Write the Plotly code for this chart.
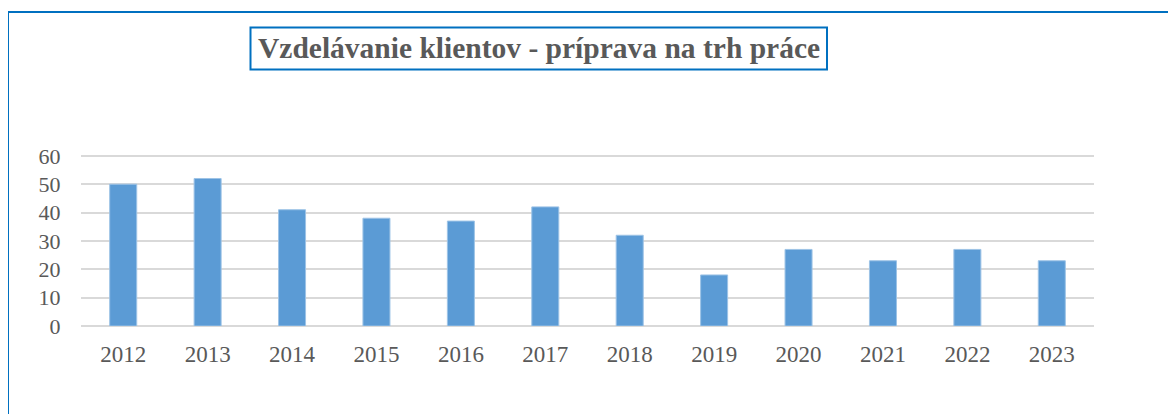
import plotly.graph_objects as go

years = ["2012", "2013", "2014", "2015", "2016", "2017", "2018", "2019", "2020", "2021", "2022", "2023"]
values = [50, 52, 41, 38, 37, 42, 32, 18, 27, 23, 27, 23]
y_ticks = [0, 10, 20, 30, 40, 50, 60]
title_text = "Vzdelávanie klientov - príprava na trh práce"

OFF = 8  # page body margin in the browser
Y_TOP = 61
W, H = 1176 - OFF, 414 - OFF
B = 88
PH_target = (326 - 156) * Y_TOP / 60
L, R = 81 - OFF, 82
T = int(round(326 - PH_target)) - OFF
PW, PH = W - L - R, H - T - B

def px(x):
    return (x - OFF - L) / PW

def py(y):
    return (H - B - (y - OFF)) / PH

FONT = "Liberation Serif"
GRAY = "#595959"
BLUE = "#0070C0"

fig = go.Figure(go.Bar(
    x=years, y=values,
    marker=dict(color="#5B9BD5", line=dict(color="#9DC3E6", width=1)),
))

fig.update_layout(
    width=W, height=H,
    margin=dict(l=L, r=R, t=T, b=B),
    paper_bgcolor="white", plot_bgcolor="white",
    bargap=0.68,
    showlegend=False,
    font=dict(family=FONT, color=GRAY),
    xaxis=dict(type="category", showgrid=False, showline=False, zeroline=False,
               ticks="outside", ticklen=7, tickcolor="rgba(0,0,0,0)",
               tickfont=dict(family=FONT, size=23, color=GRAY)),
    yaxis=dict(range=[0, Y_TOP], tickvals=y_ticks, showgrid=True, gridcolor="#D9D9D9",
               gridwidth=1.5, zeroline=True, zerolinecolor="#D9D9D9", zerolinewidth=1.5,
               showline=False, ticks="outside", ticklen=15, tickcolor="rgba(0,0,0,0)",
               tickfont=dict(family=FONT, size=22, color=GRAY)),
    shapes=[
        dict(type="line", xref="paper", yref="paper", x0=px(8), x1=px(1200), y0=py(12), y1=py(12),
             line=dict(color=BLUE, width=2)),
        dict(type="line", xref="paper", yref="paper", x0=px(8), x1=px(8), y0=py(12), y1=py(440),
             line=dict(color=BLUE, width=2)),
        dict(type="rect", xref="paper", yref="paper", x0=px(250.5), x1=px(827), y0=py(27.5), y1=py(69.5),
             line=dict(color=BLUE, width=2), fillcolor="rgba(0,0,0,0)"),
    ],
    annotations=[
        dict(text="<b>" + title_text + "</b>", xref="paper", yref="paper",
             x=px(538.5), y=py(48), xanchor="center", yanchor="middle", showarrow=False,
             font=dict(family=FONT, size=29.5, color=GRAY)),
    ],
)

fig.write_html("out.html")
